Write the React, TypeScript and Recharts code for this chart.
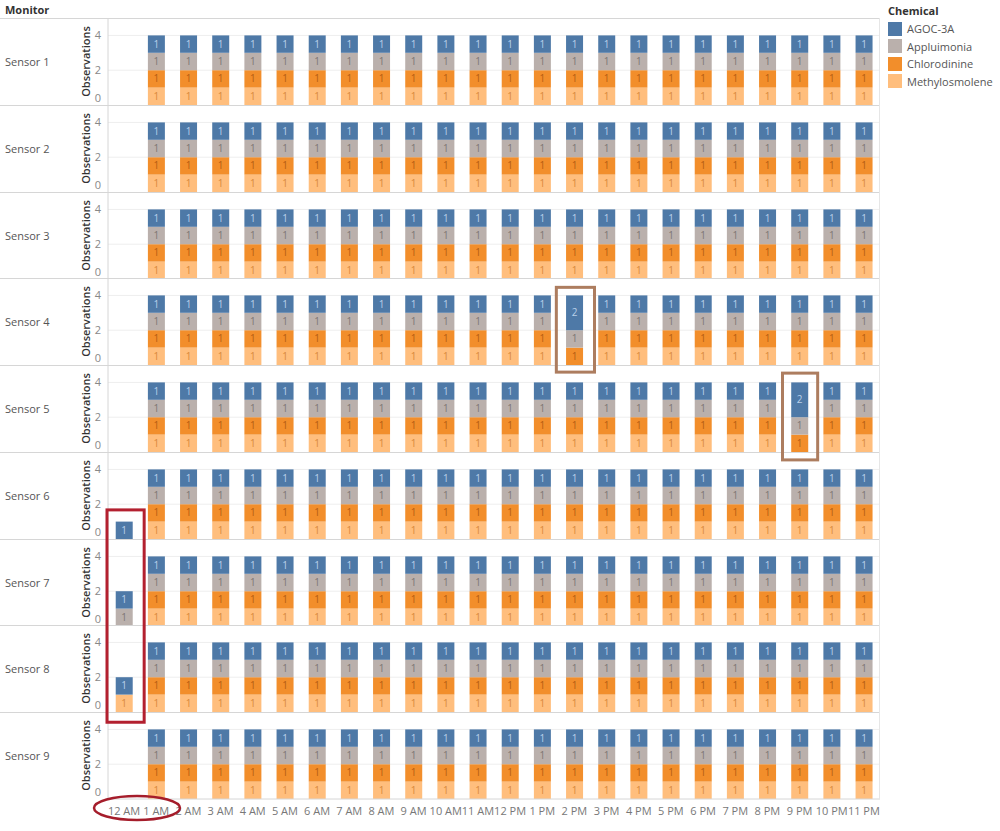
import { BarChart, Bar, XAxis, YAxis, CartesianGrid, LabelList, Label } from 'recharts';

const hours = [
    '12 AM', '1 AM', '2 AM', '3 AM', '4 AM', '5 AM', '6 AM', '7 AM', '8 AM', '9 AM', '10 AM', '11 AM',
    '12 PM', '1 PM', '2 PM', '3 PM', '4 PM', '5 PM', '6 PM', '7 PM', '8 PM', '9 PM', '10 PM', '11 PM',
];

const sensors = ['Sensor 1', 'Sensor 2', 'Sensor 3', 'Sensor 4', 'Sensor 5', 'Sensor 6', 'Sensor 7', 'Sensor 8', 'Sensor 9'];

// top of stack first, as in the legend
const chemicals = ['AGOC-3A', 'Appluimonia', 'Chlorodinine', 'Methylosmolene'];
const chemicalColors = ['#4e79a7', '#bab0ac', '#f28e2b', '#ffbe7d'];
const chemicalLabelColors = ['#b9d0ea', '#7d7673', '#b45d12', '#d8893c'];

// typical hourly observations of each chemical (one per hour, nothing at 12 AM)
const typicalAgoc = [null, 1, 1, 1, 1, 1, 1, 1, 1, 1, 1, 1, 1, 1, 1, 1, 1, 1, 1, 1, 1, 1, 1, 1];
const typicalAppluimonia = [null, 1, 1, 1, 1, 1, 1, 1, 1, 1, 1, 1, 1, 1, 1, 1, 1, 1, 1, 1, 1, 1, 1, 1];
const typicalChlorodinine = [null, 1, 1, 1, 1, 1, 1, 1, 1, 1, 1, 1, 1, 1, 1, 1, 1, 1, 1, 1, 1, 1, 1, 1];
const typicalMethylosmolene = [null, 1, 1, 1, 1, 1, 1, 1, 1, 1, 1, 1, 1, 1, 1, 1, 1, 1, 1, 1, 1, 1, 1, 1];
const typicalSeries = [typicalAgoc, typicalAppluimonia, typicalChlorodinine, typicalMethylosmolene];

// cells that differ from the typical pattern
const unusualReadings: { sensor: string; hour: string; chemical: string; value: number | null }[] = [
    { sensor: 'Sensor 4', hour: '2 PM', chemical: 'AGOC-3A', value: 2 },
    { sensor: 'Sensor 4', hour: '2 PM', chemical: 'Methylosmolene', value: null },
    { sensor: 'Sensor 5', hour: '9 PM', chemical: 'AGOC-3A', value: 2 },
    { sensor: 'Sensor 5', hour: '9 PM', chemical: 'Methylosmolene', value: null },
    { sensor: 'Sensor 6', hour: '12 AM', chemical: 'AGOC-3A', value: 1 },
    { sensor: 'Sensor 7', hour: '12 AM', chemical: 'AGOC-3A', value: 1 },
    { sensor: 'Sensor 7', hour: '12 AM', chemical: 'Appluimonia', value: 1 },
    { sensor: 'Sensor 8', hour: '12 AM', chemical: 'AGOC-3A', value: 1 },
    { sensor: 'Sensor 8', hour: '12 AM', chemical: 'Methylosmolene', value: 1 },
];

const yTicks = [0, 2, 4];

const FONT = '"Open Sans", "Noto Sans", sans-serif';
const TOP = 18;
const ROW_H = 86.78;
const AXIS_LEFT = 76;
const PLOT_LEFT = 108;
const PLOT_RIGHT = 880;
const BAND = (PLOT_RIGHT - PLOT_LEFT) / hours.length;

const buildRows = (sensor: string) =>
    hours.map((hour, h) => {
        const row: Record<string, any> = { hour };
        chemicals.forEach((chem, c) => {
            row[chem] = typicalSeries[c][h];
        });
        unusualReadings
            .filter((r) => r.sensor === sensor && r.hour === hour)
            .forEach((r) => {
                row[r.chemical] = r.value;
            });
        return row;
    });

const YTick = ({ y, payload }: any) => (
    <text
        x={PLOT_LEFT - AXIS_LEFT - 10}
        y={payload.value === 0 ? y - 7 : y}
        dy="0.35em"
        textAnchor="middle"
        fill="#888"
        fontSize={11}
        fontFamily={FONT}
    >
        {payload.value}
    </text>
);

const SensorRow = ({ sensor, index }: { sensor: string; index: number }) => {
    const top = TOP + index * ROW_H;
    const isLast = index === sensors.length - 1;
    const plotH = Math.round(ROW_H);
    const data = buildRows(sensor);
    // bottom of stack first
    const order = [3, 2, 1, 0];

    return (
        <div style={{ position: 'absolute', left: 0, top, width: PLOT_RIGHT, height: plotH }}>
            <div
                style={{
                    position: 'absolute',
                    left: 5,
                    top: 0,
                    height: plotH,
                    lineHeight: `${plotH}px`,
                    fontSize: 11,
                    color: '#555',
                }}
            >
                {sensor}
            </div>
            <div style={{ position: 'absolute', left: AXIS_LEFT, top: 0 }}>
                <BarChart
                    width={PLOT_RIGHT - AXIS_LEFT}
                    height={isLast ? plotH + 26 : plotH}
                    data={data}
                    margin={{ top: 0, right: 0, bottom: 0, left: 0 }}
                    barCategoryGap="24%"
                >
                    <CartesianGrid vertical={false} horizontal={true} stroke="#eeeeee" horizontalValues={[2, 4]} />
                    <XAxis
                        dataKey="hour"
                        hide={!isLast}
                        height={26}
                        interval={0}
                        tickLine={false}
                        axisLine={{ stroke: '#d6d6d6' }}
                        tick={{ fontSize: 11, fill: '#777', fontFamily: FONT }}
                        tickMargin={2}
                    />
                    <YAxis
                        width={PLOT_LEFT - AXIS_LEFT}
                        domain={[0, 5]}
                        ticks={yTicks}
                        interval={0}
                        allowDataOverflow
                        tickLine={false}
                        axisLine={{ stroke: '#d6d6d6' }}
                        tick={<YTick />}
                    >
                        <Label
                            value="Observations"
                            angle={-90}
                            position="insideLeft"
                            offset={10}
                            fill="#333"
                            style={{ textAnchor: 'middle', fontSize: 11, fontWeight: 600, fontFamily: FONT }}
                        />
                    </YAxis>
                    {order.map((c) => (
                        <Bar
                            key={chemicals[c]}
                            dataKey={chemicals[c]}
                            stackId="obs"
                            fill={chemicalColors[c]}
                            isAnimationActive={false}
                        >
                            <LabelList
                                dataKey={chemicals[c]}
                                position="center"
                                fill={chemicalLabelColors[c]}
                                fontSize={10}
                                fontFamily={FONT}
                            />
                        </Bar>
                    ))}
                </BarChart>
            </div>
        </div>
    );
};

const bandLeft = (hour: string) => PLOT_LEFT + hours.indexOf(hour) * BAND;
const rowTop = (sensor: string) => TOP + sensors.indexOf(sensor) * ROW_H;

const App = () => {
    const bottom = TOP + sensors.length * ROW_H;

    return (
        <div
            style={{
                position: 'absolute',
                left: 0,
                top: 0,
                width: 1000,
                height: 831,
                background: '#fff',
                fontFamily: FONT,
                overflow: 'hidden',
            }}
        >
            <div style={{ position: 'absolute', left: 5, top: 2, fontSize: 11, fontWeight: 700, color: '#333' }}>
                Monitor
            </div>

            {sensors.map((s, i) => (
                <SensorRow key={s} sensor={s} index={i} />
            ))}

            {/* row dividers */}
            {sensors.map((s, i) => (
                <div
                    key={'line' + s}
                    style={{
                        position: 'absolute',
                        left: 0,
                        top: Math.round(TOP + i * ROW_H),
                        width: PLOT_RIGHT,
                        borderTop: '1px solid #d6d6d6',
                    }}
                />
            ))}
            <div
                style={{
                    position: 'absolute',
                    left: PLOT_RIGHT - 1,
                    top: TOP,
                    height: bottom - TOP,
                    borderLeft: '1px solid #e6e6e6',
                }}
            />

            {/* legend */}
            <div style={{ position: 'absolute', left: 888, top: 3, fontSize: 11, color: '#555' }}>
                <div style={{ fontWeight: 700, color: '#333', marginBottom: 2 }}>Chemical</div>
                {chemicals.map((chem, c) => (
                    <div key={chem} style={{ display: 'flex', alignItems: 'center', height: 17.5 }}>
                        <span
                            style={{
                                display: 'inline-block',
                                width: 14,
                                height: 14,
                                background: chemicalColors[c],
                                marginRight: 5,
                            }}
                        />
                        {chem}
                    </div>
                ))}
            </div>

            {/* annotations */}
            <svg
                width={1000}
                height={831}
                style={{ position: 'absolute', left: 0, top: 0, pointerEvents: 'none' }}
            >
                <rect
                    x={bandLeft('2 PM') - 2}
                    y={rowTop('Sensor 4') + 9}
                    width={BAND + 6}
                    height={ROW_H - 2}
                    fill="none"
                    stroke="#ad7d5f"
                    strokeWidth={3}
                />
                <rect
                    x={bandLeft('9 PM') - 1}
                    y={rowTop('Sensor 5') + 8}
                    width={BAND + 3}
                    height={ROW_H}
                    fill="none"
                    stroke="#ad7d5f"
                    strokeWidth={3}
                />
                <rect
                    x={bandLeft('12 AM') - 1}
                    y={rowTop('Sensor 6') + 58}
                    width={BAND + 5}
                    height={rowTop('Sensor 9') + 10 - (rowTop('Sensor 6') + 58)}
                    fill="none"
                    stroke="#b3202f"
                    strokeWidth={3}
                />
                <ellipse cx={137} cy={808} rx={43} ry={12} fill="none" stroke="#a51d2b" strokeWidth={2.5} />
            </svg>
        </div>
    );
};

export default App;
